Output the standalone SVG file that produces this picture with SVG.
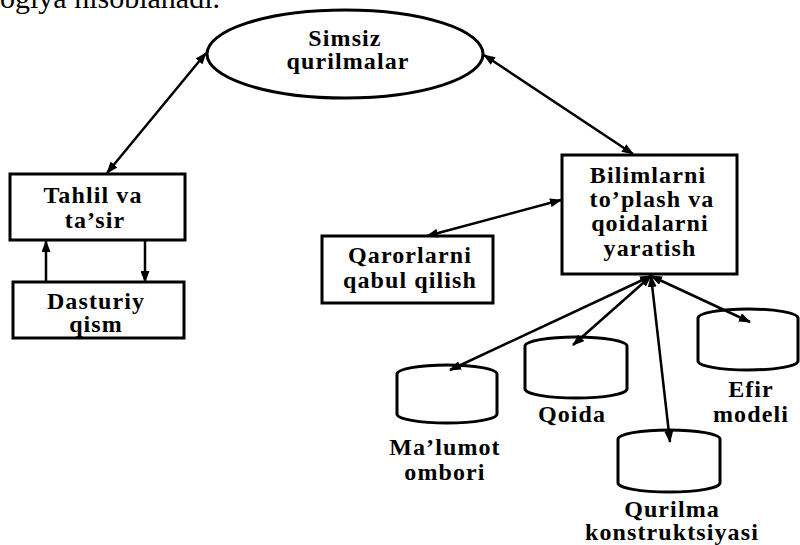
<svg xmlns="http://www.w3.org/2000/svg" width="800" height="545" viewBox="0 0 800 545">
  <style>
    .shape { fill: #ffffff; stroke: #000000; stroke-width: 3; }
    .label { font-family: "Liberation Serif", "Times New Roman", serif; font-weight: bold; font-size: 24px; letter-spacing: 1.1px; text-anchor: middle; fill: #000000; }
    .head { font-family: "Liberation Serif", "Times New Roman", serif; font-size: 30px; fill: #000000; }
    .link { fill: none; stroke: #000000; stroke-width: 2.5; marker-end: url(#arrow); }
    .both { marker-start: url(#arrow); }
  </style>
  <defs>
    <marker id="arrow" viewBox="0 0 12 9" refX="11" refY="4.5" markerWidth="12" markerHeight="9" markerUnits="userSpaceOnUse" orient="auto-start-reverse">
      <path d="M0,0 L12,4.5 L0,9 z" fill="#000000"/>
    </marker>
  </defs>
  <rect width="800" height="545" fill="#ffffff"/>

  <!-- running text line of the page, clipped at the top edge -->
  <text class="head" x="0" y="8">ogiya hisoblanadi.</text>

  <g id="simsiz">
    <ellipse class="shape" cx="345" cy="54" rx="138" ry="44"/>
    <text class="label" x="345" y="46">Simsiz</text>
    <text class="label" x="348" y="69">qurilmalar</text>
  </g>

  <g id="tahlil">
    <rect class="shape" x="10" y="174" width="175" height="66"/>
    <text class="label" x="93" y="203">Tahlil va</text>
    <text class="label" x="95" y="228">ta’sir</text>
  </g>

  <g id="dasturiy">
    <rect class="shape" x="13" y="282" width="171" height="56"/>
    <text class="label" x="96" y="309">Dasturiy</text>
    <text class="label" x="96" y="332">qism</text>
  </g>

  <g id="qarorlarni">
    <rect class="shape" x="322" y="236" width="171" height="67"/>
    <text class="label" x="410" y="263">Qarorlarni</text>
    <text class="label" x="410" y="288">qabul qilish</text>
  </g>

  <g id="bilimlarni">
    <rect class="shape" x="562" y="155" width="175" height="119"/>
    <text class="label" x="648" y="183">Bilimlarni</text>
    <text class="label" x="652" y="207">to’plash  va</text>
    <text class="label" x="650" y="231">qoidalarni</text>
    <text class="label" x="650" y="256">yaratish</text>
  </g>

  <g id="malumot">
    <path class="shape" d="M397,374 A50,9 0 0 1 497,374 V414 A50,9 0 0 1 397,414 Z"/>
    <text class="label" x="445" y="455">Ma’lumot</text>
    <text class="label" x="445" y="480">ombori</text>
  </g>

  <g id="qoida">
    <path class="shape" d="M525,346 A51,9 0 0 1 627,346 V389 A51,9 0 0 1 525,389 Z"/>
    <text class="label" x="572" y="422">Qoida</text>
  </g>

  <g id="efir">
    <path class="shape" d="M698,318 A50,9 0 0 1 798,318 V361 A50,9 0 0 1 698,361 Z"/>
    <text class="label" x="751" y="397">Efir</text>
    <text class="label" x="751" y="422">modeli</text>
  </g>

  <g id="qurilma">
    <path class="shape" d="M618,439 A51,9 0 0 1 720,439 V483 A51,9 0 0 1 618,483 Z"/>
    <text class="label" x="672" y="517">Qurilma</text>
    <text class="label" x="672" y="540">konstruktsiyasi</text>
  </g>

  <!-- connectors, drawn last so heads sit on the cylinder tops -->
  <g id="connectors">
    <line class="link both" x1="107" y1="173" x2="206" y2="53"/>
    <line class="link both" x1="484" y1="55" x2="633" y2="154"/>
    <line class="link both" x1="427" y1="236" x2="561" y2="200"/>
    <line class="link" x1="46" y1="282" x2="46" y2="241"/>
    <line class="link" x1="145" y1="241" x2="145" y2="282"/>
    <line class="link both" x1="651" y1="276" x2="450" y2="370"/>
    <line class="link both" x1="651" y1="276" x2="573" y2="345"/>
    <line class="link both" x1="651" y1="276" x2="670" y2="442"/>
    <line class="link both" x1="651" y1="276" x2="750" y2="322"/>
  </g>
</svg>
